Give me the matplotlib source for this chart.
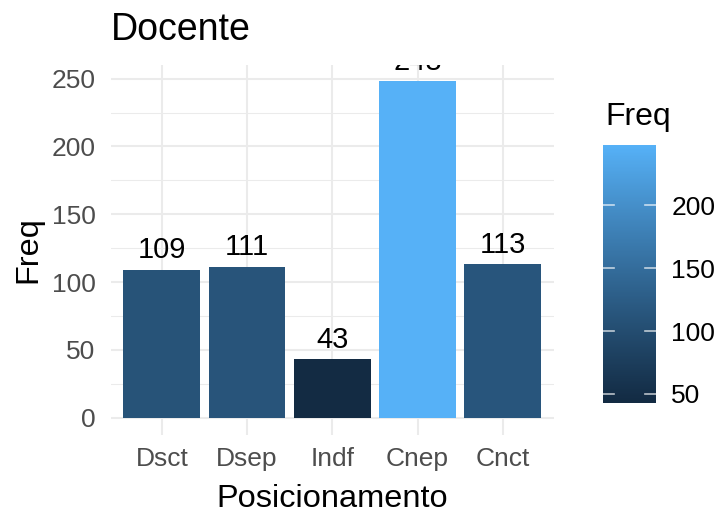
import numpy as np
import matplotlib
matplotlib.use("Agg")
import matplotlib.pyplot as plt
from matplotlib.colors import ListedColormap, Normalize

categories = ["Dsct", "Dsep", "Indf", "Cnep", "Cnct"]
freq = [109, 111, 43, 248, 113]
y_ticks = [0, 50, 100, 150, 200, 250]
cb_ticks = [50, 100, 150, 200]

plt.rcParams['font.family'] = ['Liberation Sans', 'DejaVu Sans']

# ggplot2 default continuous gradient, interpolated in Lab space
def srgb_to_lab(hexc):
    rgb = np.array([int(hexc[i:i+2], 16) / 255 for i in (1, 3, 5)])
    lin = np.where(rgb <= 0.04045, rgb / 12.92, ((rgb + 0.055) / 1.055) ** 2.4)
    M = np.array([[0.4124564, 0.3575761, 0.1804375],
                  [0.2126729, 0.7151522, 0.0721750],
                  [0.0193339, 0.1191920, 0.9503041]])
    xyz = M @ lin
    wp = np.array([0.95047, 1.0, 1.08883])
    t = xyz / wp
    f = np.where(t > 216 / 24389, np.cbrt(t), (24389 / 27 * t + 16) / 116)
    return np.array([116 * f[1] - 16, 500 * (f[0] - f[1]), 200 * (f[1] - f[2])])

def lab_to_srgb(lab):
    L, a, b = lab
    fy = (L + 16) / 116
    fx = fy + a / 500
    fz = fy - b / 200
    def finv(f):
        return np.where(f ** 3 > 216 / 24389, f ** 3, (116 * f - 16) / (24389 / 27))
    wp = np.array([0.95047, 1.0, 1.08883])
    xyz = np.array([finv(fx), finv(fy), finv(fz)]) * wp
    Minv = np.array([[3.2404542, -1.5371385, -0.4985314],
                     [-0.9692660, 1.8760108, 0.0415560],
                     [0.0556434, -0.2040259, 1.0572252]])
    lin = np.clip(Minv @ xyz, 0, 1)
    rgb = np.where(lin <= 0.0031308, 12.92 * lin, 1.055 * lin ** (1 / 2.4) - 0.055)
    return np.clip(rgb, 0, 1)

lo, hi = srgb_to_lab("#132B43"), srgb_to_lab("#56B1F7")
cols = [lab_to_srgb(lo + (hi - lo) * t) for t in np.linspace(0, 1, 256)]
cmap = ListedColormap(cols)
norm = Normalize(vmin=min(freq), vmax=max(freq))

W, H = 721, 513
fig = plt.figure(figsize=(W / 100, H / 100), dpi=100)

def px_axes(l, t, r, b):
    return fig.add_axes([l / W, (H - b) / H, (r - l) / W, (b - t) / H])

ax = px_axes(110.7, 64.5, 554, 434.5)
x = np.arange(1, len(categories) + 1)
bars = ax.bar(x, freq, width=0.9, color=[cmap(norm(v)) for v in freq], zorder=2)
ax.set_xlim(0.4, len(categories) + 0.6)
rng = max(freq) - 0
ax.set_ylim(0 - 0.05 * rng, max(freq) + 0.05 * rng)

ax.set_yticks(y_ticks)
ax.set_yticks([25, 75, 125, 175, 225], minor=True)
ax.set_xticks(x)
ax.set_xticklabels(categories)
ax.grid(True, which='major', color='#EBEBEB', linewidth=1.5, zorder=0)
ax.grid(True, which='minor', axis='y', color='#EBEBEB', linewidth=0.75, zorder=0)
ax.set_axisbelow(True)
for s in ax.spines.values():
    s.set_visible(False)
ax.tick_params(axis='both', which='both', length=0)
ax.tick_params(axis='y', labelsize=19, labelcolor='#4D4D4D', pad=11)
ax.tick_params(axis='x', labelsize=19, labelcolor='#4D4D4D', pad=9)

for xi, v in zip(x, freq):
    ax.annotate(str(v), (xi, v), xytext=(0, 8.4), textcoords='offset points',
                ha='center', va='baseline', fontsize=21, color='black',
                annotation_clip=False, clip_on=True)

fig.text(110.7 / W, (H - 40) / H, "Docente", fontsize=27, ha='left', va='baseline')
fig.text(332 / W, (H - 507) / H, "Posicionamento", fontsize=23.4, ha='center', va='baseline')
fig.text(28 / W, (H - 249.5) / H, "Freq", fontsize=23.4, ha='center', va='center', rotation=90)

# colorbar
cax = px_axes(603, 145, 656, 402.7)
grad = np.linspace(min(freq), max(freq), 300).reshape(-1, 1)
cax.imshow(grad, aspect='auto', cmap=cmap, norm=norm, origin='lower',
           extent=[0, 1, min(freq), max(freq)])
cax.set_xlim(0, 1)
cax.set_ylim(min(freq), max(freq))
for t in cb_ticks:
    cax.plot([0, 0.2], [t, t], color='white', lw=1.2, alpha=0.7)
    cax.plot([0.8, 1], [t, t], color='white', lw=1.2, alpha=0.7)
for s in cax.spines.values():
    s.set_visible(False)
cax.set_xticks([])
cax.set_yticks(cb_ticks)
cax.yaxis.tick_right()
cax.tick_params(axis='y', length=0, labelsize=19, labelcolor='black', pad=11)
fig.text(605 / W, (H - 125) / H, "Freq", fontsize=23, ha='left', va='baseline')

fig.savefig("out.png", dpi=100)
